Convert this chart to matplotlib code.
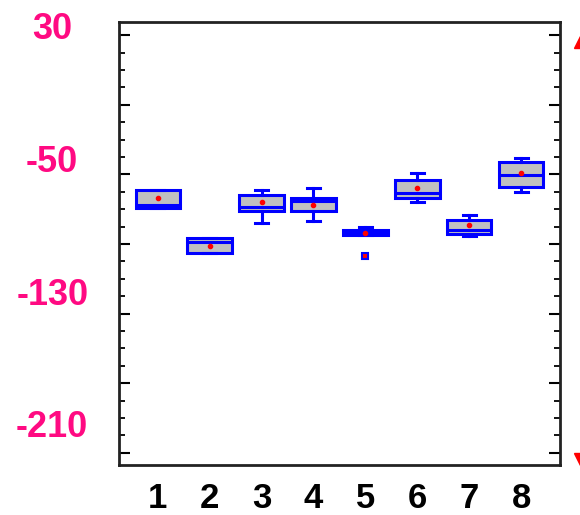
import matplotlib.pyplot as plt
import matplotlib.transforms as mtransforms
from matplotlib.ticker import MultipleLocator

# box statistics
groups = ['1', '2', '3', '4', '5', '6', '7', '8']
whisker_lo = [-69.2, -94.9, -77.9, -76.5, -85.0, -65.8, -85.6, -60.0]
q1 = [-69.2, -94.9, -70.8, -70.8, -85.0, -63.5, -84.3, -57.3]
median = [-67.3, -88.7, -68.7, -65.5, -83.5, -60.9, -82.1, -50.3]
q3 = [-59.2, -86.6, -62.1, -63.8, -82.0, -53.2, -76.0, -42.8]
whisker_hi = [-59.2, -86.6, -59.2, -57.7, -80.2, -49.0, -73.1, -40.7]
mean = [-63.5, -91.4, -65.8, -67.3, -83.5, -57.7, -79.2, -49.2]
outliers = [[], [], [], [], [-96.8], [], [], []]

ytick_values = [30, -10, -50, -90, -130, -170, -210]
ytick_labels = ['30', '', '-50', '', '-130', '', '-210']

stats = []
for i in range(len(groups)):
    stats.append({'label': groups[i], 'whislo': whisker_lo[i], 'q1': q1[i], 'med': median[i],
                  'q3': q3[i], 'whishi': whisker_hi[i], 'mean': mean[i], 'fliers': outliers[i]})

fig = plt.figure(figsize=(5.8, 5.15), dpi=100)
ax = fig.add_axes([0.205, 0.097, 0.7605, 0.86])

blue = '#0000FF'
ax.bxp(stats, positions=range(1, 9), widths=0.86, patch_artist=True, showmeans=True,
       capwidths=0.25,
       boxprops=dict(facecolor='#C0C0C0', edgecolor=blue, linewidth=2.2),
       medianprops=dict(color=blue, linewidth=2.2),
       whiskerprops=dict(color=blue, linewidth=2.2),
       capprops=dict(color=blue, linewidth=2.2),
       meanprops=dict(marker='o', markerfacecolor='red', markeredgecolor='red', markersize=3),
       flierprops=dict(marker='s', markerfacecolor='red', markeredgecolor=blue,
                       markeredgewidth=1.5, markersize=5))

ax.set_xlim(0.25, 8.75)
ax.set_ylim(-217, 37.5)

ax.set_yticks(ytick_values)
ax.set_yticklabels(ytick_labels)
ax.yaxis.set_minor_locator(MultipleLocator(10))
ax.tick_params(axis='y', which='major', direction='in', length=8, width=1.5,
               left=True, right=True, pad=48, labelsize=26, labelcolor='#FF0A82')
ax.tick_params(axis='y', which='minor', direction='in', length=4, width=1.3,
               left=True, right=True)
ax.tick_params(axis='x', length=0, pad=12, labelsize=25)

# labels sit centred and drift above their ticks in the reference
k = 0
for lab in ax.get_yticklabels():
    lab.set_ha('center')
    lab.set_fontweight('bold')
    lab.set_fontfamily('Liberation Sans')
    if lab.get_text():
        dy = (10 + 6.3 * k) / 100
        k += 1
        lab.set_transform(lab.get_transform() +
                          mtransforms.ScaledTranslation(0, dy, fig.dpi_scale_trans))
for lab in ax.get_xticklabels():
    lab.set_fontweight('bold')
    lab.set_fontfamily('Liberation Sans')

for sp in ax.spines.values():
    sp.set_linewidth(2)
    sp.set_color('#222222')

# red arrow heads cut off at the right edge
ax.plot([1.045], [0.955], marker='^', color='red', markersize=8, clip_on=False,
        transform=ax.transAxes)
ax.plot([1.045], [0.0135], marker='v', color='red', markersize=8, clip_on=False,
        transform=ax.transAxes)

plt.savefig('out.png', dpi=100)
